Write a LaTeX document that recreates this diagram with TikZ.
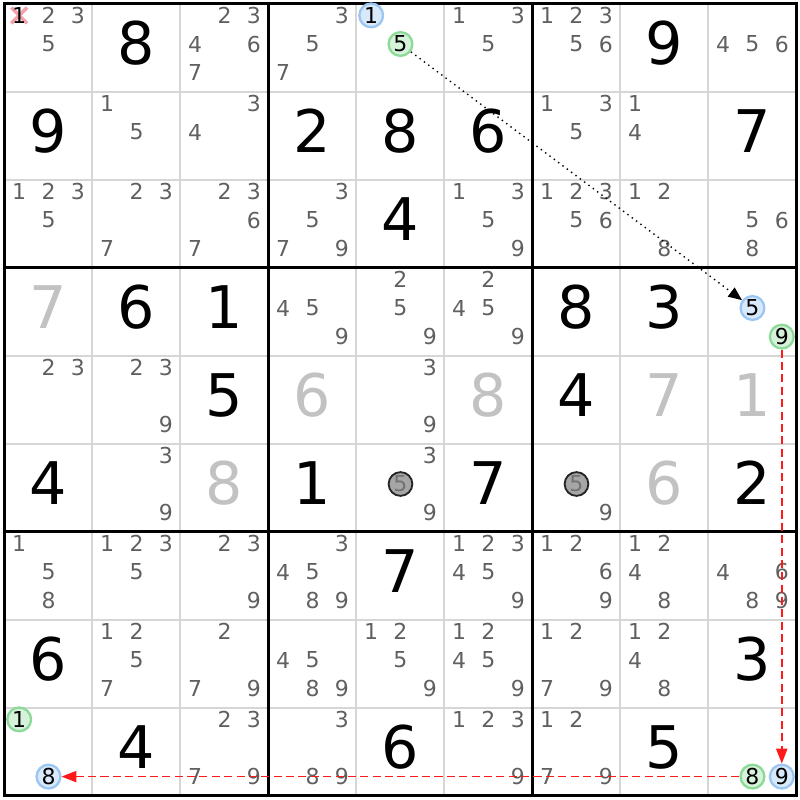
\documentclass[tikz,border=0pt]{standalone}
\usepackage{fontspec}
\setmainfont{DejaVu Sans}
\usetikzlibrary{arrows.meta}
\definecolor{candgrey}{HTML}{606060}
\definecolor{solvedgrey}{HTML}{C2C2C2}
\definecolor{gridgrey}{HTML}{D6D6D6}
\definecolor{ringblue}{HTML}{9CC6F2}
\definecolor{fillblue}{HTML}{D8E9FB}
\definecolor{ringgreen}{HTML}{8CDA98}
\definecolor{fillgreen}{HTML}{D6F2DA}
\definecolor{strikepink}{HTML}{F4A2AA}
\def\candfont{\fontsize{7.1}{8}\selectfont}
\def\bigfont{\fontsize{19}{22}\selectfont}
\tikzset{
  cand/.style={font=\candfont, text=candgrey, inner sep=0pt},
  given/.style={font=\bigfont, text=black, inner sep=0pt},
  solved/.style={font=\bigfont, text=solvedgrey, inner sep=0pt},
  bluering/.style={circle, draw=ringblue, fill=fillblue, line width=0.75pt, minimum size=0.27cm, text=black},
  greenring/.style={circle, draw=ringgreen, fill=fillgreen, line width=0.75pt, minimum size=0.27cm, text=black},
  greyring/.style={circle, draw=black!85, fill=black!35, line width=0.6pt, minimum size=0.27cm, text=black!55},
  chain/.style={black, line width=0.45pt, dash pattern=on 0.45pt off 1.3pt, -{Triangle[length=4.4pt,width=3.6pt]}},
  link/.style={red!90!white, line width=0.5pt, dash pattern=on 2.6pt off 1.4pt, -{Triangle[length=4.8pt,width=3.6pt]}}
}
% candidate digits of one cell, placed on the 3x3 keypad
\def\cands(#1,#2)#3{\foreach \d in {#3}{\node[cand] (r#1c#2n\d) at ({#2-0.5+0.333*(mod(\d-1,3)-1)},{0.04-(#1-0.5)-0.325*(floor((\d-1)/3)-1)}) {\d};}}
% one highlighted candidate
\def\ring[#1](#2,#3)#4{\node[cand,#1] (r#2c#3n#4) at ({#3-0.5+0.333*(mod(#4-1,3)-1)},{0.04-(#2-0.5)-0.325*(floor((#4-1)/3)-1)}) {#4};}
\def\given(#1,#2)#3{\node[given] (r#1c#2) at ({#2-0.5},{0.05-(#1-0.5)}) {#3};}
\def\solved(#1,#2)#3{\node[solved] (r#1c#2) at ({#2-0.5},{0.05-(#1-0.5)}) {#3};}

\begin{document}
\begin{tikzpicture}
			%%%%% START %%%%%
			\useasboundingbox (-0.051, 0.040) rectangle (9.040, -9.051);
			
			\draw[gridgrey, line width=0.65pt] (0, 0) grid (9, -9);
			\draw[line width=0.95pt] (0, 0) rectangle (9, -9);
			\draw[line width=0.95pt] (3, 0) -- (3, -9);
			\draw[line width=0.95pt] (6, 0) -- (6, -9);
			\draw[line width=0.95pt] (0, -3) -- (9, -3);
			\draw[line width=0.95pt] (0, -6) -- (9, -6);
			
			% row 1
			\draw[strikepink, line width=1.1pt] (0.077, -0.045) -- (0.257, -0.225);
			\draw[strikepink, line width=1.1pt] (0.077, -0.225) -- (0.257, -0.045);
			\ring[text=black](1,1){1}
			\cands(1,1){2,3,5}
			\given(1,2){8}
			\cands(1,3){2,3,4,6,7}
			\cands(1,4){3,5,7}
			\ring[bluering](1,5){1}
			\ring[greenring](1,5){5}
			\cands(1,6){1,3,5}
			\cands(1,7){1,2,3,5,6}
			\given(1,8){9}
			\cands(1,9){4,5,6}
			
			% row 2
			\given(2,1){9}
			\cands(2,2){1,5}
			\cands(2,3){3,4}
			\given(2,4){2}
			\given(2,5){8}
			\given(2,6){6}
			\cands(2,7){1,3,5}
			\cands(2,8){1,4}
			\given(2,9){7}
			
			% row 3
			\cands(3,1){1,2,3,5}
			\cands(3,2){2,3,7}
			\cands(3,3){2,3,6,7}
			\cands(3,4){3,5,7,9}
			\given(3,5){4}
			\cands(3,6){1,3,5,9}
			\cands(3,7){1,2,3,5,6}
			\cands(3,8){1,2,8}
			\cands(3,9){5,6,8}
			
			% row 4
			\solved(4,1){7}
			\given(4,2){6}
			\given(4,3){1}
			\cands(4,4){4,5,9}
			\cands(4,5){2,5,9}
			\cands(4,6){2,4,5,9}
			\given(4,7){8}
			\given(4,8){3}
			\ring[bluering](4,9){5}
			\ring[greenring](4,9){9}
			
			% row 5
			\cands(5,1){2,3}
			\cands(5,2){2,3,9}
			\given(5,3){5}
			\solved(5,4){6}
			\cands(5,5){3,9}
			\solved(5,6){8}
			\given(5,7){4}
			\solved(5,8){7}
			\solved(5,9){1}
			
			% row 6
			\given(6,1){4}
			\cands(6,2){3,9}
			\solved(6,3){8}
			\given(6,4){1}
			\cands(6,5){3,9}
			\ring[greyring](6,5){5}
			\given(6,6){7}
			\ring[greyring](6,7){5}
			\cands(6,7){9}
			\solved(6,8){6}
			\given(6,9){2}
			
			% row 7
			\cands(7,1){1,5,8}
			\cands(7,2){1,2,3,5}
			\cands(7,3){2,3,9}
			\cands(7,4){3,4,5,8,9}
			\given(7,5){7}
			\cands(7,6){1,2,3,4,5,9}
			\cands(7,7){1,2,6,9}
			\cands(7,8){1,2,4,8}
			\cands(7,9){4,6,8,9}
			
			% row 8
			\given(8,1){6}
			\cands(8,2){1,2,5,7}
			\cands(8,3){2,7,9}
			\cands(8,4){4,5,8,9}
			\cands(8,5){1,2,5,9}
			\cands(8,6){1,2,4,5,9}
			\cands(8,7){1,2,7,9}
			\cands(8,8){1,2,4,8}
			\given(8,9){3}
			
			% row 9
			\ring[greenring](9,1){1}
			\ring[bluering](9,1){8}
			\given(9,2){4}
			\cands(9,3){2,3,7,9}
			\cands(9,4){3,8,9}
			\given(9,5){6}
			\cands(9,6){1,2,3,9}
			\cands(9,7){1,2,7,9}
			\given(9,8){5}
			\ring[greenring](9,9){8}
			\ring[bluering](9,9){9}
			
			% chain
			\draw[chain] (r1c5n5) -- (r4c9n5);
			\draw[link] (r4c9n9) -- (r9c9n9);
			\draw[link] (r9c9n8) -- (r9c1n8);
			
			%%%%% END %%%%%
\end{tikzpicture}
\end{document}
